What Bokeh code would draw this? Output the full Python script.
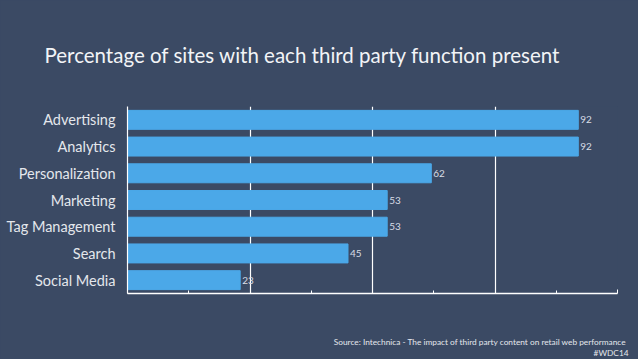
from bokeh.plotting import figure
from bokeh.models import ColumnDataSource, FixedTicker, FactorRange, Range1d, Title
from bokeh.core.properties import value
from bokeh.embed import file_html
from bokeh.resources import INLINE

categories = ["Advertising", "Analytics", "Personalization", "Marketing",
              "Tag Management", "Search", "Social Media"]
values = [92, 92, 62, 53, 53, 45, 23]
x_ticks = [0, 25, 50, 75, 100]
x_minor = [12.5, 37.5, 62.5, 87.5]
title_text = "Percentage of sites with each third party function present"
source_text = "Source: Intechnica - The impact of third party content on retail  web performance"
tag_text = "#WDC14"

BG = "#3b4a64"
BAR = "#4ba8e8"
FONT = "Lato"

src = ColumnDataSource(dict(cat=categories, val=values, lbl=[str(v) for v in values]))

p = figure(width=638, height=359, output_backend="svg", toolbar_location=None,
           y_range=FactorRange(*reversed(categories), range_padding=0),
           x_range=Range1d(0, 100),
           min_border_left=127, min_border_right=21, min_border_top=106, min_border_bottom=66)
p.background_fill_color = BG
p.border_fill_color = BG
p.outline_line_color = None

p.hbar(y="cat", right="val", left=0, height=0.71, color=BAR, source=src)
p.text(x="val", y="cat", text="lbl", source=src, x_offset=2,
       text_baseline="middle", text_align="left", text_font=value(FONT),
       text_font_size="10px", text_color="#d8dde6")

# x axis (no visible tick labels; the label slot only reserves space)
xa = p.xaxis[0]
xa.ticker = FixedTicker(ticks=x_ticks, minor_ticks=x_minor)
xa.axis_line_color = "white"
xa.axis_line_width = 1.5
xa.major_tick_in = 4
xa.major_tick_out = 0
xa.minor_tick_in = 3
xa.minor_tick_out = 0
xa.major_tick_line_color = "white"
xa.minor_tick_line_color = "white"
xa.major_label_overrides = {t: " " for t in x_ticks}
xa.major_label_text_font_size = "1px"
xa.major_label_text_color = BG
xa.major_label_standoff = 34

# y axis
ya = p.yaxis[0]
ya.axis_line_color = "white"
ya.axis_line_width = 1.2
ya.major_tick_line_color = None
ya.minor_tick_line_color = None
ya.major_tick_out = 0
ya.major_tick_in = 0
ya.major_label_text_font = FONT
ya.major_label_text_font_size = "14.5px"
ya.major_label_text_color = "#e4e7ec"
ya.major_label_standoff = 12

p.ygrid.grid_line_color = None
p.xgrid.grid_line_color = "white"
p.xgrid.grid_line_width = 1.2

p.title.text = title_text
p.title.align = "left"
p.title.offset = -83
p.title.standoff = 79
p.title.text_font = FONT
p.title.text_font_size = "20.5px"
p.title.text_font_style = "normal"
p.title.text_color = "#f2f4f7"

p.add_layout(Title(text=source_text, align="right", offset=-11, standoff=6,
                   text_font=FONT, text_font_size="8.3px", text_font_style="normal",
                   text_color="#e4e7ec"), "below")
p.add_layout(Title(text=tag_text, align="right", offset=-11, standoff=-8,
                   text_font=FONT, text_font_size="8.3px", text_font_style="normal",
                   text_color="#e4e7ec"), "below")

html = file_html(p, INLINE)
html = html.replace("</head>",
                    "<style>html,body{margin:0;padding:0;overflow:hidden;background:%s}</style></head>" % BG, 1)
open("out.html", "w").write(html)
